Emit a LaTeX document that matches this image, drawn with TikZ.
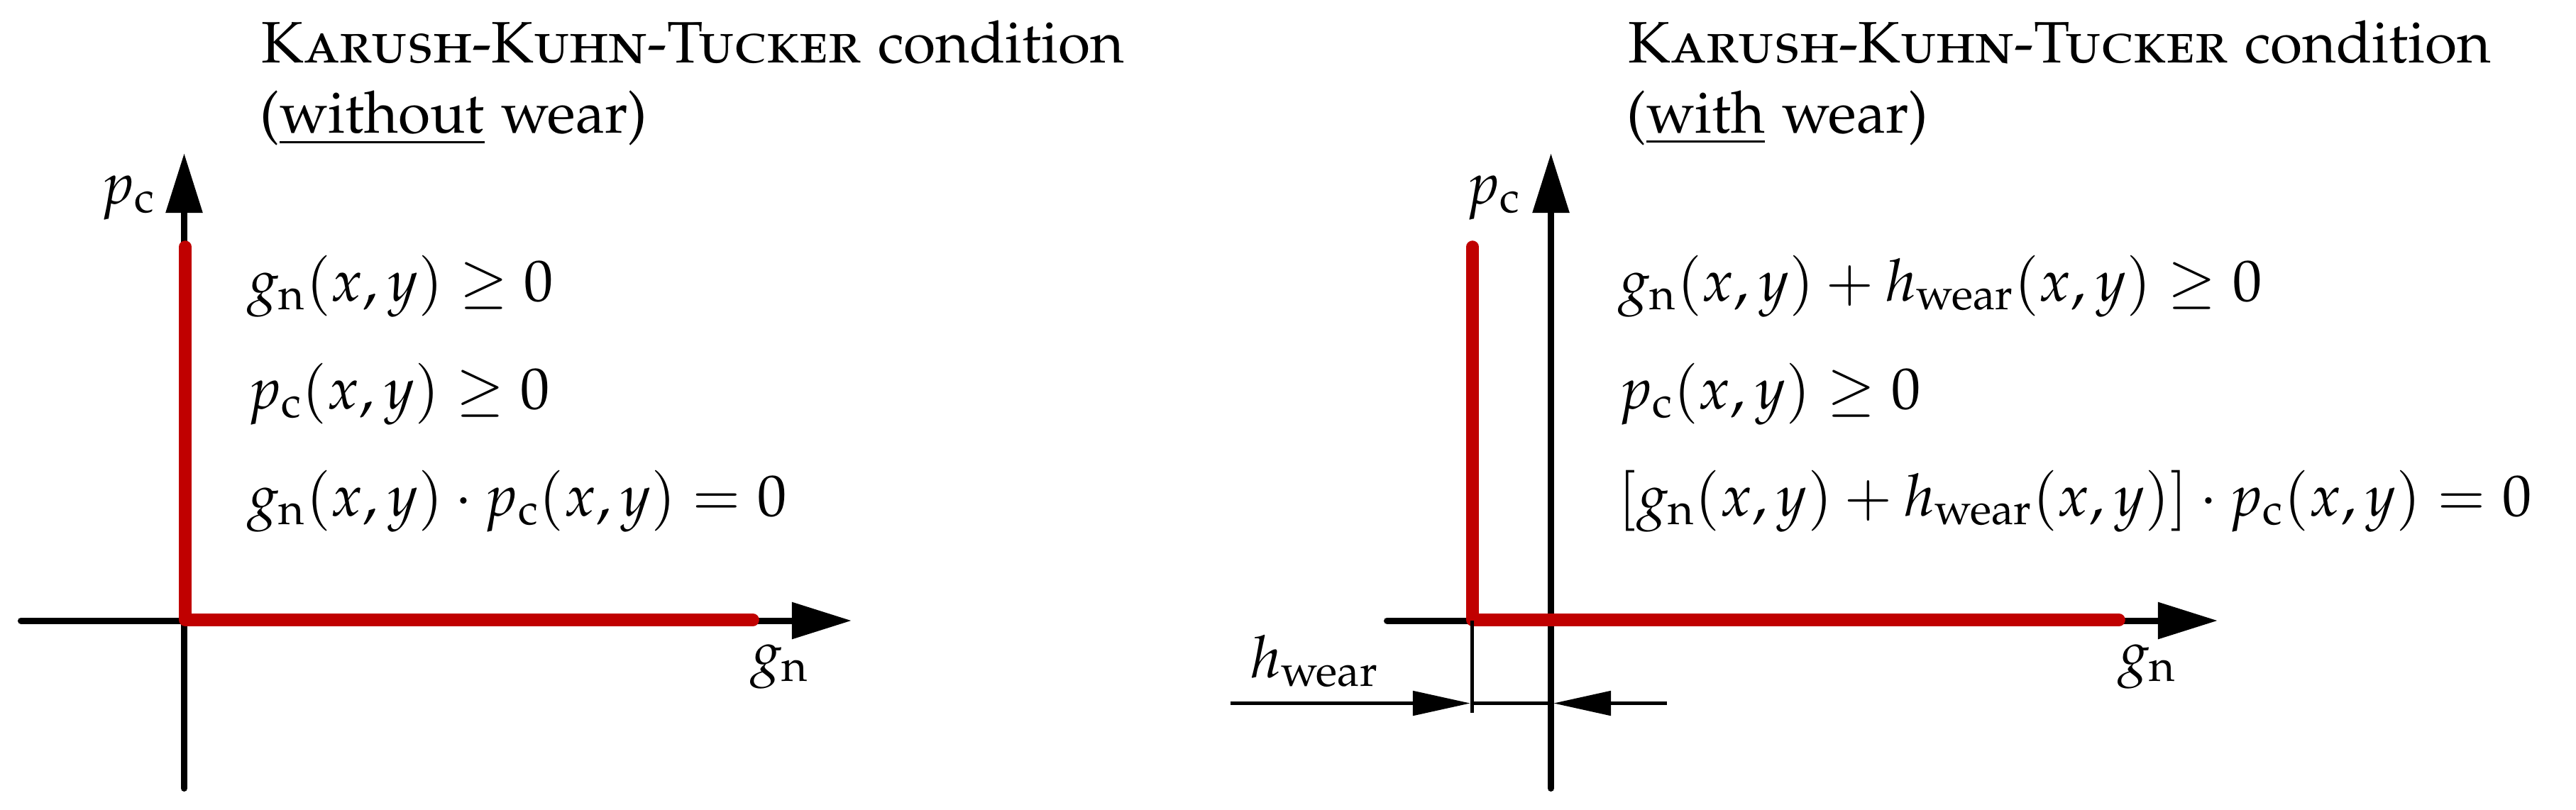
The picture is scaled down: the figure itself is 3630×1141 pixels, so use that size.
\documentclass[tikz,border=0pt]{standalone}
\usepackage[T1]{fontenc}
\usepackage[sc]{mathpazo}
\usetikzlibrary{arrows.meta}
\definecolor{kktred}{RGB}{192,0,0}
\begin{document}
\begin{tikzpicture}[x=0.01cm,y=-0.01cm,
  txt/.style={font=\fontsize{23.4}{28}\selectfont, inner sep=0pt, anchor=base west},
  axisline/.style={line width=2.56pt, line cap=round, -{Triangle[length=0.84cm,width=0.5cm]}},
  redline/.style={draw=kktred, line width=5pt, line cap=round, line join=round},
  dimline/.style={line width=1.5pt, -{Triangle[length=0.81cm,width=0.34cm]}},
  extline/.style={line width=1.3pt}]
\useasboundingbox (0,0) rectangle (3630,1141);

% ---------- left panel ----------
\coordinate (Lxs) at (29.5,875);
\coordinate (Lxe) at (1200,875);
\coordinate (Lys) at (259.5,1111.5);
\coordinate (Lye) at (259.5,216);
\coordinate (Lr1) at (261,348);
\coordinate (Lr2) at (261,874);
\coordinate (Lr3) at (1061,874);
\draw[axisline] (Lxs) -- (Lxe);
\draw[axisline] (Lys) -- (Lye);
\draw[redline] (Lr1) -- (Lr2) -- (Lr3);

\node[txt] (Lt1) at (368,88) {\textsc{Karush-Kuhn-Tucker} condition};
\node[txt] (Lt2) at (366,187.5) {(\underline{without} wear)};
\node[txt] (Le1) at (348,424) {$g_\mathrm{n}(x,y) \geq 0$};
\node[txt] (Le2) at (348,576) {$p_\mathrm{c}(x,y) \geq 0$};
\node[txt] (Le3) at (348,727) {$g_\mathrm{n}(x,y)\cdot p_\mathrm{c}(x,y) = 0$};
\node[txt] (Lpc) at (141,287) {$p_\mathrm{c}$};
\node[txt] (Lgn) at (1057,948) {$g_\mathrm{n}$};

% ---------- right panel ----------
\coordinate (Rxs) at (1954.5,875);
\coordinate (Rxe) at (3125,875);
\coordinate (Rys) at (2185.5,1111.5);
\coordinate (Rye) at (2185.5,216);
\coordinate (Rr1) at (2075,348);
\coordinate (Rr2) at (2075,874);
\coordinate (Rr3) at (2986,874);
\draw[axisline] (Rxs) -- (Rxe);
\draw[axisline] (Rys) -- (Rye);
\draw[redline] (Rr1) -- (Rr2) -- (Rr3);

% wear dimension
\coordinate (Ex1) at (2074.5,875);
\coordinate (Ex2) at (2074.5,1005);
\coordinate (Da) at (1734,991.5);
\coordinate (Db) at (2072,991.5);
\coordinate (Dc) at (2189,991.5);
\coordinate (Dd) at (2349,991.5);
\draw[extline] (Ex1) -- (Ex2);
\draw[dimline] (Da) -- (Db);
\draw[dimline] (Dd) -- (Dc);
\draw[line width=1.5pt] (Db) -- (Dc);
\node[txt] (Rhw) at (1761,955) {$h_\mathrm{wear}$};

\node[txt] (Rt1) at (2294,88) {\textsc{Karush-Kuhn-Tucker} condition};
\node[txt] (Rt2) at (2292,187.5) {(\underline{with} wear)};
\node[txt] (Re1) at (2280,424) {$g_\mathrm{n}(x,y) + h_\mathrm{wear}(x,y) \geq 0$};
\node[txt] (Re2) at (2280,576) {$p_\mathrm{c}(x,y) \geq 0$};
\node[txt] (Re3) at (2280,727) {$[g_\mathrm{n}(x,y) + h_\mathrm{wear}(x,y)]\cdot p_\mathrm{c}(x,y) = 0$};
\node[txt] (Rpc) at (2065,287) {$p_\mathrm{c}$};
\node[txt] (Rgn) at (2984,948) {$g_\mathrm{n}$};
\end{tikzpicture}
\end{document}
